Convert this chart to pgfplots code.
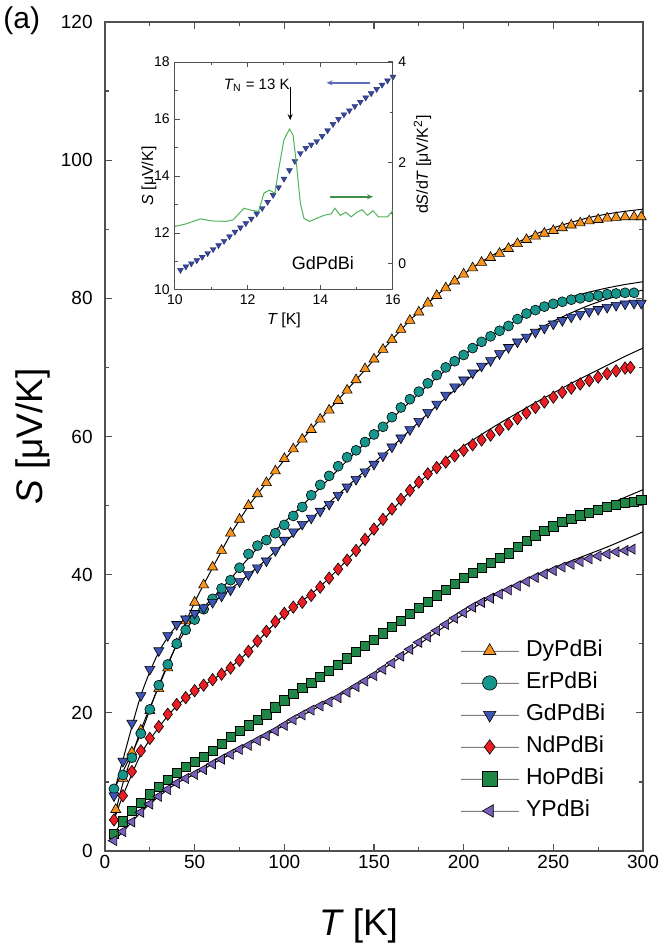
\documentclass[border=0pt]{standalone}
\usepackage{fontspec}
\setmainfont{Liberation Sans}
\usepackage{pgfplots}
\pgfplotsset{compat=1.18}
\usetikzlibrary{arrows.meta}
\definecolor{cDy}{RGB}{247,148,29}
\definecolor{cEr}{RGB}{22,150,140}
\definecolor{cGd}{RGB}{64,84,180}
\definecolor{cNd}{RGB}{235,30,35}
\definecolor{cHo}{RGB}{30,135,70}
\definecolor{cY}{RGB}{120,95,185}
\definecolor{axgray}{RGB}{80,80,80}
\definecolor{inblue}{RGB}{55,70,160}
\definecolor{ingreen}{RGB}{80,180,90}
\begin{document}
\begin{tikzpicture}
\useasboundingbox (-52.5pt,-46pt) rectangle (279.5pt,425.5pt);
\begin{axis}[
  scale only axis, width=269pt, height=414.5pt,
  xmin=0, xmax=300, ymin=0, ymax=120,
  xtick={0,50,...,300}, ytick={0,20,...,120},
  minor xtick={25,75,...,275}, minor ytick={10,30,...,110},
  tick align=inside, major tick length=3.5pt, minor tick length=2pt,
  axis line style={draw=axgray, line width=0.7pt},
  every tick/.style={draw=axgray, line width=0.6pt},
  /pgf/number format/assume math mode=true,
  tick label style={font=\fontsize{9.5}{11}\selectfont, inner sep=0pt},
  xticklabel shift=2pt, yticklabel shift=6pt,
  xlabel={\itshape T\upshape\ [K]},
  ylabel={\itshape S\upshape\ [μV/K]},
  label style={font=\fontsize{18.5}{20}\selectfont},
  xlabel style={at={(axis description cs:0.472,0)}, anchor=base, yshift=-42pt},
  ylabel style={at={(axis description cs:-0.117,0.5)}, anchor=base},
  legend cell align=left,
  legend style={at={(axis cs:197.9,30.9)}, anchor=north west, draw=none, fill=none,
    font=\fontsize{11.5}{13}\selectfont, inner sep=0pt,
    nodes={inner sep=1pt, text height=8.5pt, text depth=2.5pt},
    row sep=3pt, /tikz/every odd column/.append style={column sep=2.5pt}},
  legend image code/.code={\draw[black!50, line width=0.4pt] (0pt,0pt) -- (29pt,0pt);
    \draw[#1, only marks, mark size=3.6pt] plot coordinates {(14.5pt,0pt)};},
  every axis plot/.append style={only marks, mark size=2.9pt, draw=black, line width=0.3pt},
]
\addplot[mark=triangle*, fill=cDy] coordinates {
(6,6.0)(10,10.5)(15,14.3)(20,17.5)(25,20.3)(30,23.5)(35,26.5)(40,30.0)(45,33.3)(50,36.0)
(55,38.5)(60,41.1)(65,43.5)(70,46.0)(75,48.0)(80,50.0)(85,51.7)(90,53.3)(95,55.0)(100,56.8)
(105,58.2)(110,59.6)(115,61.0)(120,62.5)(125,63.8)(130,65.2)(135,66.7)(140,68.2)(145,69.8)(150,71.2)
(155,72.6)(160,74.0)(165,75.5)(170,76.8)(175,78.0)(180,79.3)(185,80.4)(190,81.5)(195,82.5)(200,83.5)
(205,84.4)(210,85.2)(215,85.9)(220,86.5)(225,87.2)(230,87.9)(235,88.5)(240,89.0)(245,89.4)(250,89.8)
(255,90.2)(260,90.6)(265,90.9)(270,91.2)(275,91.4)(280,91.6)(285,91.7)(290,91.8)(295,91.8)(299,91.8)};
\addlegendentry{DyPdBi}
\addplot[mark=*, fill=cEr, mark size=2.5pt] coordinates {
(5,9.0)(10,11.0)(15,13.5)(20,17.0)(25,20.5)(30,24.0)(35,27.0)(40,30.0)(45,32.0)(50,33.5)
(55,35.0)(60,36.5)(65,38.0)(70,39.2)(75,41.0)(80,43.0)(85,44.2)(90,45.0)(95,46.0)(100,47.2)
(105,48.5)(110,49.8)(115,51.5)(120,53.0)(125,54.3)(130,55.7)(135,57.0)(140,58.0)(145,59.2)(150,60.3)
(155,61.4)(160,62.8)(165,64.2)(170,65.4)(175,66.5)(180,67.7)(185,68.9)(190,70.0)(195,70.9)(200,71.8)
(205,72.8)(210,73.7)(215,74.5)(220,75.3)(225,76.0)(230,77.0)(235,77.8)(240,78.3)(245,78.8)(250,79.2)
(255,79.5)(260,79.8)(265,80.0)(270,80.2)(275,80.4)(280,80.6)(285,80.7)(290,80.8)(295,80.8)};
\addlegendentry{ErPdBi}
\addplot[mark=triangle*, mark options={rotate=180}, fill=cGd] coordinates {
(5,8.0)(10,13.0)(15,18.5)(20,22.5)(25,26.3)(30,29.0)(35,31.2)(40,32.8)(45,33.6)(50,34.4)
(55,35.2)(60,36.0)(65,36.9)(70,37.8)(75,39.0)(80,40.0)(85,41.0)(90,42.0)(95,43.5)(100,45.0)
(105,46.2)(110,47.3)(115,48.2)(120,49.2)(125,50.2)(130,51.5)(135,52.7)(140,53.8)(145,54.9)(150,56.0)
(155,57.2)(160,58.5)(165,59.8)(170,61.0)(175,62.2)(180,63.5)(185,64.7)(190,66.0)(195,67.2)(200,68.2)
(205,69.2)(210,70.2)(215,71.0)(220,72.0)(225,72.9)(230,73.7)(235,74.4)(240,75.1)(245,75.7)(250,76.3)
(255,76.8)(260,77.3)(265,77.7)(270,78.1)(275,78.4)(280,78.7)(285,79.0)(290,79.2)(295,79.3)(299,79.3)};
\addlegendentry{GdPdBi}
\addplot[mark=diamond*, fill=cNd, mark size=3.1pt] coordinates {
(5,4.5)(10,8.0)(15,11.5)(20,14.5)(25,16.3)(30,18.0)(35,19.8)(40,21.2)(45,22.2)(50,23.2)
(55,24.0)(60,24.8)(65,25.6)(70,26.5)(75,27.6)(80,28.9)(85,30.4)(90,31.8)(95,33.2)(100,34.4)
(105,35.3)(110,36.0)(115,37.0)(120,38.2)(125,39.5)(130,40.8)(135,42.1)(140,43.5)(145,45.1)(150,46.6)
(155,48.0)(160,49.5)(165,50.9)(170,52.2)(175,53.4)(180,54.6)(185,55.5)(190,56.3)(195,57.2)(200,58.0)
(205,58.8)(210,59.5)(215,60.2)(220,61.0)(225,61.8)(230,62.6)(235,63.4)(240,64.2)(245,65.0)(250,65.7)
(255,66.4)(260,67.0)(265,67.6)(270,68.1)(275,68.6)(280,69.1)(285,69.5)(290,69.9)(293,70.0)};
\addlegendentry{NdPdBi}
\addplot[mark=square*, fill=cHo, mark size=2.3pt] coordinates {
(5,2.5)(10,4.3)(15,5.8)(20,7.0)(25,8.2)(30,9.3)(35,10.3)(40,11.3)(45,12.2)(50,12.9)
(55,13.6)(60,14.5)(65,15.5)(70,16.5)(75,17.4)(80,18.2)(85,19.0)(90,19.8)(95,20.8)(100,21.8)
(105,22.8)(110,23.6)(115,24.4)(120,25.2)(125,26.1)(130,27.0)(135,27.9)(140,28.8)(145,29.7)(150,30.6)
(155,31.5)(160,32.4)(165,33.3)(170,34.3)(175,35.2)(180,36.1)(185,37.0)(190,37.8)(195,38.7)(200,39.5)
(205,40.3)(210,41.0)(215,41.7)(220,42.4)(225,43.1)(230,44.0)(235,44.9)(240,45.7)(245,46.4)(250,47.0)
(255,47.6)(260,48.1)(265,48.6)(270,49.0)(275,49.4)(280,49.8)(285,50.1)(290,50.4)(295,50.6)(299,50.8)};
\addlegendentry{HoPdBi}
\addplot[mark=triangle*, mark options={rotate=90}, fill=cY] coordinates {
(5,1.5)(10,2.8)(15,4.2)(20,5.6)(25,6.8)(30,7.9)(35,8.9)(40,9.8)(45,10.5)(50,11.1)
(55,11.8)(60,12.6)(65,13.3)(70,14.0)(75,14.7)(80,15.3)(85,16.0)(90,16.7)(95,17.4)(100,18.2)
(105,19.0)(110,19.7)(115,20.4)(120,21.0)(125,21.6)(130,22.2)(135,23.0)(140,23.8)(145,24.6)(150,25.4)
(155,26.3)(160,27.2)(165,28.2)(170,29.2)(175,30.2)(180,31.0)(185,31.9)(190,32.8)(195,33.7)(200,34.5)
(205,35.3)(210,36.0)(215,36.6)(220,37.2)(225,37.8)(230,38.4)(235,39.0)(240,39.6)(245,40.1)(250,40.6)
(255,41.1)(260,41.5)(265,41.9)(270,42.3)(275,42.7)(280,43.0)(285,43.3)(290,43.5)(294,43.7)};
\addlegendentry{YPdBi}
% fit lines
\addplot[forget plot, no marks, sharp plot, smooth, black, line width=0.5pt] coordinates {
(5,4.5)(10,9.8)(20,17.5)(30,23.8)(40,30)(50,36)(60,41)(70,45.8)(80,49.9)(90,53.3)(100,56.6)(110,59.6)(120,62.5)(130,65.3)(140,68.2)(150,71.1)(160,74)(170,76.8)(180,79.3)(190,81.5)(200,83.5)(210,85.3)(220,86.8)(230,88.1)(240,89.3)(250,90.2)(260,91)(270,91.7)(280,92.2)(290,92.6)(300,92.9)};
\addplot[forget plot, no marks, sharp plot, smooth, black, line width=0.5pt] coordinates {
(5,9)(10,11.5)(20,17)(30,24)(40,29.8)(50,33.8)(60,36.6)(70,39.4)(80,42.4)(90,45.2)(100,47.6)(110,50)(120,52.6)(130,55.2)(140,57.8)(150,60.2)(160,62.6)(170,65)(180,67.4)(190,69.6)(200,71.7)(210,73.6)(220,75.4)(230,76.9)(240,78.2)(250,79.3)(260,80.2)(270,80.9)(280,81.5)(290,82)(300,82.4)};
\addplot[forget plot, no marks, sharp plot, smooth, black, line width=0.5pt] coordinates {
(5,8.5)(10,13.2)(20,22.5)(30,28.8)(40,32.6)(50,34.4)(60,36)(70,37.9)(80,40)(90,42.2)(100,44.6)(110,47)(120,49.3)(130,51.6)(140,53.9)(150,56.2)(160,58.5)(170,60.9)(180,63.3)(190,65.6)(200,67.8)(210,69.9)(220,71.9)(230,73.7)(240,75.3)(250,76.7)(260,77.9)(270,79)(280,79.9)(290,80.6)(300,81.2)};
\addplot[forget plot, no marks, sharp plot, smooth, black, line width=0.5pt] coordinates {
(5,4.5)(10,8)(20,14)(30,17.9)(40,21)(50,23.1)(60,24.8)(70,26.6)(80,28.9)(90,31.7)(100,34.2)(110,36.2)(120,38.3)(130,40.8)(140,43.5)(150,46.4)(160,49.3)(170,52)(180,54.5)(190,56.7)(200,58.6)(210,60.3)(220,61.9)(230,63.4)(240,64.9)(250,66.3)(260,67.7)(270,69)(280,70.3)(290,71.6)(300,72.8)};
\addplot[forget plot, no marks, sharp plot, smooth, black, line width=0.5pt] coordinates {
(5,2.5)(10,4.3)(20,7)(30,9.3)(40,11.3)(50,12.9)(60,14.5)(70,16.4)(80,18.2)(90,19.9)(100,21.7)(110,23.5)(120,25.2)(130,27)(140,28.8)(150,30.6)(160,32.4)(170,34.3)(180,36.1)(190,37.9)(200,39.6)(210,41.2)(220,42.7)(230,44.1)(240,45.4)(250,46.6)(260,47.8)(270,49)(280,50.1)(290,51.2)(300,52.3)};
\addplot[forget plot, no marks, sharp plot, smooth, black, line width=0.5pt] coordinates {
(5,1.5)(10,2.8)(20,5.6)(30,7.9)(40,9.8)(50,11.1)(60,12.6)(70,14)(80,15.4)(90,16.8)(100,18.2)(110,19.6)(120,21)(130,22.4)(140,23.9)(150,25.5)(160,27.2)(170,29)(180,30.8)(190,32.6)(200,34.3)(210,35.9)(220,37.4)(230,38.7)(240,39.9)(250,41)(260,42)(270,43)(280,44)(290,45.1)(300,46.2)};
\end{axis}
\node[anchor=base west, font=\fontsize{15}{16}\selectfont, inner sep=0pt] at (-51pt,411pt) {(a)};
% ---------- inset ----------
\begin{axis}[
  at={(35pt,280.5pt)}, anchor=south west,
  scale only axis, width=109pt, height=114pt,
  xmin=10, xmax=16, ymin=10, ymax=18,
  xtick={10,12,14,16}, ytick={10,12,...,18},
  minor xtick={11,13,15}, minor ytick={11,13,15,17},
  axis y line*=left,
  tick align=inside, major tick length=2.5pt, minor tick length=1.5pt,
  axis line style={draw=axgray, line width=0.5pt},
  every tick/.style={draw=axgray, line width=0.5pt},
  axis background/.style={fill=white},
  /pgf/number format/assume math mode=true,
  tick label style={font=\fontsize{7}{8}\selectfont, inner sep=0pt},
  xticklabel shift=2pt, yticklabel shift=2.5pt,
  xlabel={\itshape T\upshape\ [K]},
  ylabel={\itshape S\upshape\ [μV/K]},
  label style={font=\fontsize{8}{9}\selectfont},
  xlabel style={at={(axis description cs:0.5,0)}, anchor=base, yshift=-17.5pt},
  ylabel style={at={(axis description cs:-0.1,0.5)}, anchor=base},
]
\addplot[only marks, mark=triangle*, mark options={rotate=180, fill=inblue, draw=inblue!70!black, line width=0.2pt}, mark size=1.7pt] coordinates {
(10.15,10.70)(10.30,10.82)(10.45,10.93)(10.60,11.04)(10.75,11.16)(10.90,11.29)(11.05,11.43)(11.20,11.57)
(11.35,11.72)(11.50,11.88)(11.65,12.04)(11.80,12.19)(11.95,12.34)(12.10,12.50)(12.25,12.68)(12.40,12.87)
(12.55,13.09)(12.70,13.33)(12.85,13.60)(13.00,13.90)(13.15,14.20)(13.30,14.52)(13.45,14.80)(13.60,14.98)
(13.75,15.10)(13.90,15.22)(14.05,15.40)(14.20,15.60)(14.35,15.82)(14.50,16.00)(14.65,16.16)(14.80,16.30)
(14.95,16.45)(15.10,16.60)(15.25,16.75)(15.40,16.90)(15.55,17.05)(15.70,17.20)(15.85,17.35)(16.00,17.48)};
\node[font=\fontsize{7.5}{8}\selectfont] at (axis cs:12.25,17.19) {\itshape T\upshape\textsubscript{N} = 13 K};
\draw[-{Stealth[length=3pt,width=2.5pt]}, black, line width=0.5pt] (axis cs:13.17,17.12) -- (axis cs:13.17,15.96);
\draw[-{Stealth[length=3pt,width=2.5pt]}, inblue!80, line width=0.8pt] (axis cs:15.37,17.27) -- (axis cs:14.17,17.27);
\draw[-{Stealth[length=3pt,width=2.5pt]}, ingreen!80!black, line width=0.8pt] (axis cs:14.26,13.27) -- (axis cs:15.45,13.27);
\node[font=\fontsize{9}{10}\selectfont, anchor=center] at (axis cs:14.07,10.95) {GdPdBi};
\end{axis}
\begin{axis}[
  at={(35pt,280.5pt)}, anchor=south west,
  scale only axis, width=109pt, height=114pt,
  xmin=10, xmax=16, ymin=-0.52, ymax=4,
  axis x line=none, axis y line*=right,
  ytick={0,2,4}, minor ytick={1,3},
  tick align=inside, major tick length=2.5pt, minor tick length=1.5pt,
  axis line style={draw=axgray, line width=0.5pt},
  every tick/.style={draw=axgray, line width=0.5pt},
  /pgf/number format/assume math mode=true,
  tick label style={font=\fontsize{7}{8}\selectfont, inner sep=0pt},
  yticklabel shift=2.5pt,
  ylabel={d\itshape S\upshape/d\itshape T\upshape\ [μV/K\textsuperscript{2}]},
  label style={font=\fontsize{8}{9}\selectfont},
  ylabel style={at={(axis description cs:1.16,0.55)}, anchor=base},
]
\addplot[ingreen, line width=0.5pt, no marks] coordinates {
(10.0,0.74)(10.3,0.79)(10.7,0.89)(11.0,0.85)(11.4,0.84)(11.6,0.87)(11.9,1.10)(12.1,1.06)(12.3,1.04)
(12.45,1.40)(12.6,1.46)(12.75,1.40)(12.85,1.86)(13.0,2.46)(13.15,2.67)(13.25,2.55)(13.35,1.93)(13.45,1.20)
(13.55,0.90)(13.7,0.84)(13.9,0.90)(14.1,0.96)(14.3,0.99)(14.4,1.10)(14.55,0.96)(14.7,1.02)(14.85,0.93)
(15.0,1.02)(15.15,1.07)(15.3,0.96)(15.45,1.05)(15.6,0.93)(15.75,0.93)(15.85,0.93)(16.0,1.06)};
\end{axis}
\end{tikzpicture}
\end{document}
